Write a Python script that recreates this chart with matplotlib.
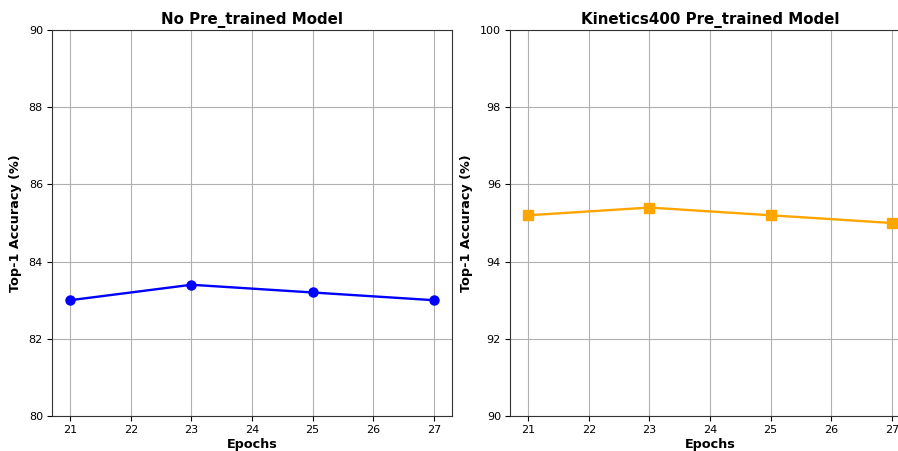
import matplotlib
matplotlib.use("Agg")
from matplotlib import pyplot as plt

epochs = [21, 23, 25, 27]
no_pretrained = [83.0, 83.4, 83.2, 83.0]
kinetics_pretrained = [95.2, 95.4, 95.2, 95.0]

W, H = 898, 451
fig = plt.figure(figsize=(W / 100, H / 100), dpi=100)


def px_axes(left, top, right, bottom):
    return fig.add_axes([left / W, 1 - bottom / H, (right - left) / W, (bottom - top) / H])


ax1 = px_axes(52, 30, 452, 416)
ax2 = px_axes(510, 30, 910, 416)

ax1.plot(epochs, no_pretrained, color='blue', marker='o', markersize=6.5, linewidth=1.7)
ax1.set_ylim(80, 90)
ax1.set_title("No Pre_trained Model", fontsize=10.8, fontweight='bold', pad=4)

ax2.plot(epochs, kinetics_pretrained, color='orange', marker='s', markersize=6.5, linewidth=1.7)
ax2.set_ylim(90, 100)
ax2.set_title("Kinetics400 Pre_trained Model", fontsize=10.8, fontweight='bold', pad=4)

for ax in (ax1, ax2):
    ax.set_xticks(range(21, 28))
    ax.set_xlim(20.7, 27.3)
    ax.set_xlabel("Epochs", fontsize=9.2, fontweight='bold', labelpad=2)
    ax.set_ylabel("Top-1 Accuracy (%)", fontsize=9.2, fontweight='bold', labelpad=5)
    ax.tick_params(labelsize=8, pad=3)
    ax.grid(True, color='#b0b0b0', linewidth=0.8)
    for s in ax.spines.values():
        s.set_color('#333333')

fig.savefig("out.png", dpi=100)
